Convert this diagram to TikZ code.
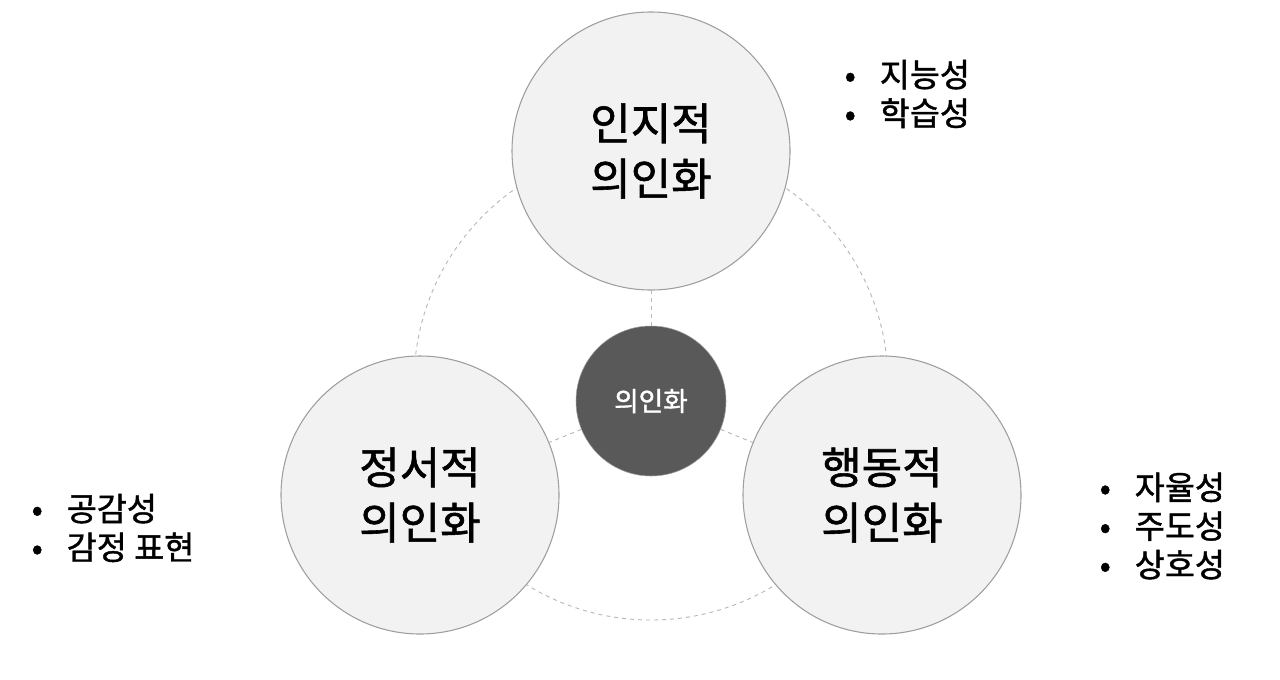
\documentclass[tikz,border=0pt]{standalone}
\usepackage{fontspec}
\setmainfont{Noto Sans CJK KR}
\newfontfamily\krm[FakeBold=1.3]{Noto Sans CJK KR}
\begin{document}
\begin{tikzpicture}[x=0.75pt,y=-0.75pt,
  big/.style={circle,draw=black!38,line width=0.8pt,fill=black!5,minimum size=278*0.75pt,inner sep=0pt,align=center,font=\krm\fontsize{33}{41.5}\selectfont},
  core/.style={circle,draw=black!38,fill=black!65,text=white,minimum size=150*0.75pt,inner sep=0pt,font=\krm\fontsize{20}{24}\selectfont},
  dashline/.style={draw=black!28,dashed,line width=0.7pt},
  lst/.style={anchor=west,align=left,font=\krm\fontsize{24.5}{29}\selectfont}]
\useasboundingbox (0,0) rectangle (1280,679);
\draw[dashline] (651,383) circle[radius=237*0.75pt];
\node[core] (c) at (651,401) {의인화};
\node[big] (t) at (651,151) {인지적\\의인화};
\node[big] (l) at (420,495) {정서적\\의인화};
\node[big] (r) at (882,495) {행동적\\의인화};
\draw[dashline] (c) -- (t);
\draw[dashline] (c) -- (l);
\draw[dashline] (c) -- (r);
\node[lst] at (840,94) {•\hspace{18pt}지능성\\•\hspace{18pt}학습성};
\node[lst] at (27,528) {•\hspace{18pt}공감성\\•\hspace{18pt}감정 표현};
\node[lst] at (1095,526) {•\hspace{18pt}자율성\\•\hspace{18pt}주도성\\•\hspace{18pt}상호성};
\end{tikzpicture}
\end{document}
